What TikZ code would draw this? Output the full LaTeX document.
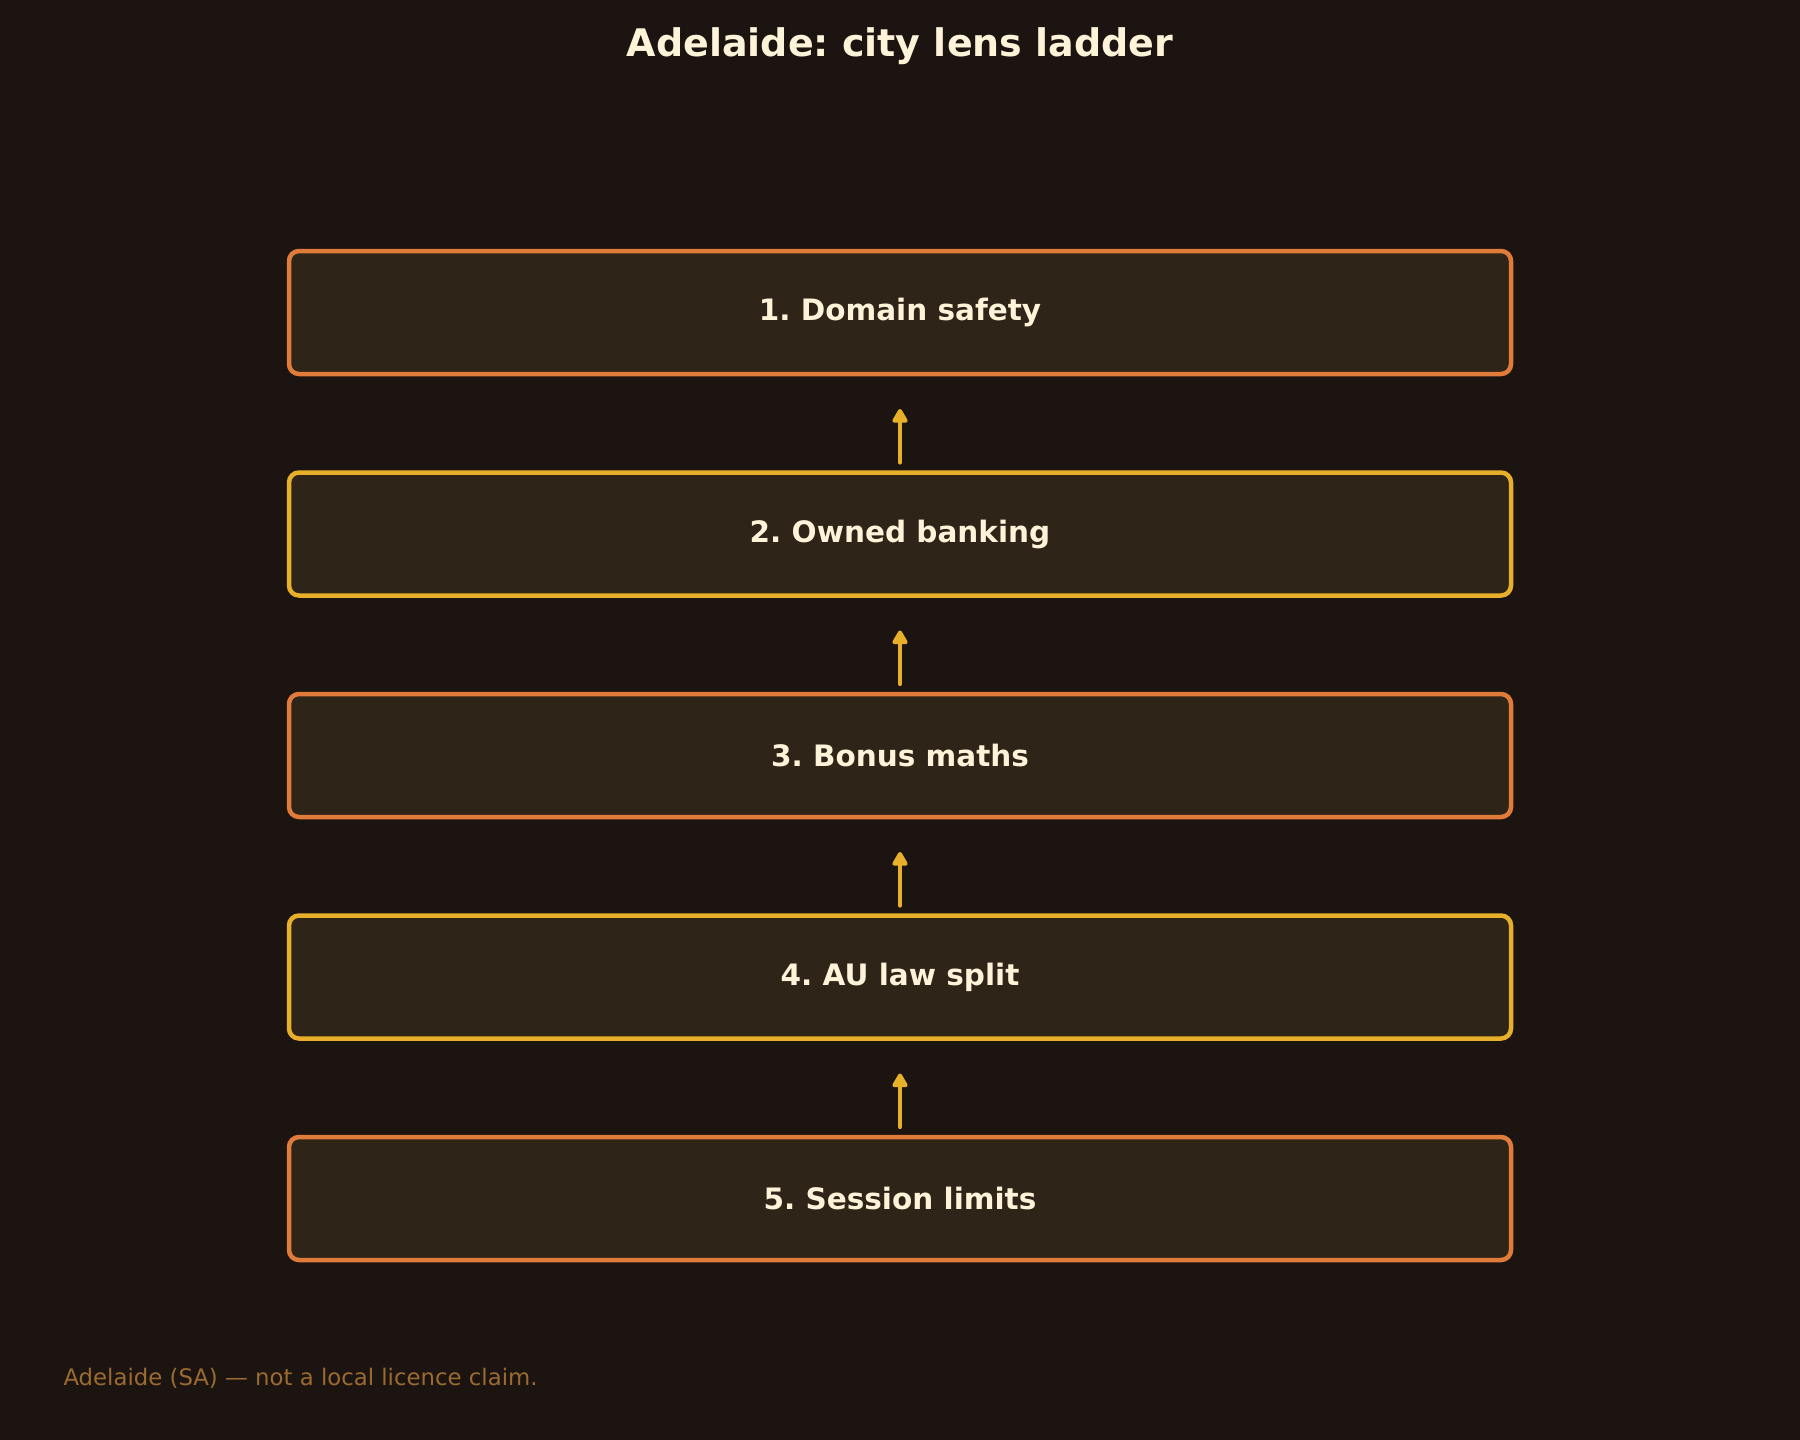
\documentclass[tikz,border=0pt]{standalone}
\usepackage{fontspec}
\setmainfont{DejaVu Sans}
\usetikzlibrary{positioning,arrows.meta}
\definecolor{bgdark}{HTML}{1C1410}
\definecolor{boxfill}{HTML}{2E2418}
\definecolor{rungorange}{HTML}{E07B39}
\definecolor{rungyellow}{HTML}{E8B02A}
\definecolor{cream}{HTML}{FDF3D8}
\definecolor{footbrown}{HTML}{9A6A30}
\frenchspacing

\begin{document}
\begin{tikzpicture}[x=1pt,y=1pt,node distance=221.5pt,on grid,
  rung/.style={draw=#1,fill=boxfill,line width=4.5pt,rounded corners=10pt,outer sep=0pt,
    minimum width=1222pt,minimum height=123pt,text=cream,font=\fontsize{29.5}{33}\selectfont\bfseries},
  climb/.style={->,>={Triangle[round,length=16pt,width=17pt]},rungyellow,line width=4.2pt,line cap=round,shorten <=10pt,shorten >=35pt}]
 \fill[bgdark] (0,0) rectangle (1800,-1440);
 \useasboundingbox (0,0) rectangle (1800,-1440);
 \node[text=cream,font=\fontsize{38}{42}\selectfont\bfseries] (title) at (900,-46) {Adelaide: city lens ladder};
 \node[rung=rungorange] (r_1) at (900,-312.5) {1. Domain safety};
 \node[rung=rungyellow] (r_2)[below=of r_1] {2. Owned banking};
 \node[rung=rungorange] (r_3)[below=of r_2] {3. Bonus maths};
 \node[rung=rungyellow] (r_4)[below=of r_3] {4. AU law split};
 \node[rung=rungorange] (r_5)[below=of r_4] {5. Session limits};
 \node[anchor=west,text=footbrown,font=\fontsize{22.8}{27}\selectfont] (foot) at (60,-1378) {Adelaide (SA) — not a local licence claim.};
 \path[climb]
 (r_2.north) edge (r_1.south)
 (r_3.north) edge (r_2.south)
 (r_4.north) edge (r_3.south)
 (r_5.north) edge (r_4.south);
\end{tikzpicture}
\end{document}
